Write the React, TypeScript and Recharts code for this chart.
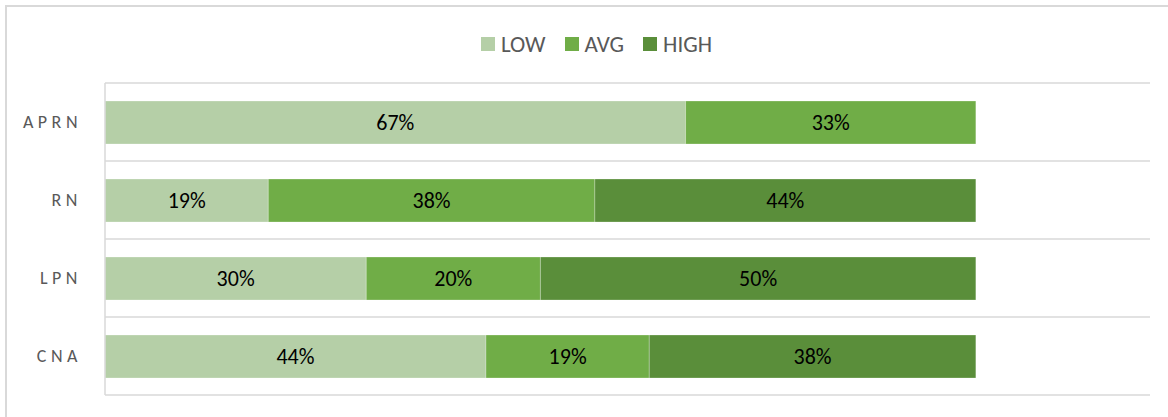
import React from "react";
import {
  BarChart,
  Bar,
  XAxis,
  YAxis,
  CartesianGrid,
  Legend,
  LabelList,
} from "recharts";

const categories = ["APRN", "RN", "LPN", "CNA"];
const lowShare = [0.6667, 0.1875, 0.3, 0.4375];
const avgShare = [0.3333, 0.375, 0.2, 0.1875];
const highShare = [0, 0.4375, 0.5, 0.375];

const seriesKeys = ["low", "avg", "high"];
const seriesNames = ["LOW", "AVG", "HIGH"];
const seriesColors = ["#B5CFA7", "#70AD47", "#5A8E3A"];

const chartData = categories.map((role, i) => ({
  role,
  low: lowShare[i],
  avg: avgShare[i],
  high: highShare[i],
}));

const FONT = "Calibri, Carlito, Lato, sans-serif";

const pct = (v: unknown) => {
  const n = Number(v);
  return n > 0 ? `${Math.round(n * 100)}%` : "";
};

// keep series order (LOW, AVG, HIGH) instead of the sorted payload
function LegendContent() {
  return (
    <div
      style={{
        display: "flex",
        justifyContent: "center",
        alignItems: "center",
        gap: 19,
        height: 24,
        fontFamily: FONT,
        fontSize: 23,
        color: "#595959",
      }}
    >
      {seriesNames.map((name, i) => (
        <div key={name} style={{ display: "flex", alignItems: "center" }}>
          <span
            style={{
              width: 14,
              height: 14,
              background: seriesColors[i],
              marginRight: 6,
              display: "inline-block",
            }}
          />
          <span>{name}</span>
        </div>
      ))}
    </div>
  );
}

export default function App() {
  return (
    <div style={{ position: "relative", width: 1152, height: 401 }}>
      <div
        style={{
          position: "fixed",
          left: 5,
          top: 5,
          width: 1163,
          height: 412,
          boxSizing: "border-box",
          borderTop: "2px solid #d9d9d9",
          borderLeft: "2px solid #d9d9d9",
          pointerEvents: "none",
          zIndex: 2,
        }}
      />
      <BarChart
        width={1152}
        height={401}
        data={chartData}
        layout="vertical"
        margin={{ top: 75, right: 10, bottom: 14, left: 0 }}
        barSize={43}
      >
        <CartesianGrid
          vertical={false}
          stroke="#d9d9d9"
          strokeWidth={1.5}
          horizontalCoordinatesGenerator={({ offset }: any) =>
            [0, 1, 2, 3, 4].map(
              (i) => offset.top + (i * offset.height) / categories.length
            )
          }
        />
        <XAxis type="number" domain={[0, 1.2]} hide />
        <YAxis
          type="category"
          dataKey="role"
          width={97}
          axisLine={{ stroke: "#d9d9d9", strokeWidth: 1.5 }}
          tickLine={false}
          tickSize={0}
          tickMargin={23}
          tick={{
            fill: "#595959",
            fontSize: 18,
            fontFamily: FONT,
            letterSpacing: 4.5,
          }}
        />
        <Legend
          verticalAlign="top"
          content={<LegendContent />}
          wrapperStyle={{ top: 24, left: 25, width: 1127, height: 0 }}
        />
        {seriesKeys.map((key, i) => (
          <Bar
            key={key}
            dataKey={key}
            name={seriesNames[i]}
            stackId="share"
            fill={seriesColors[i]}
            stroke="#ffffff"
            strokeOpacity={0.25}
            strokeWidth={1}
            isAnimationActive={false}
          >
            <LabelList
              dataKey={key}
              position="center"
              formatter={pct}
              fill="#000000"
              fontSize={22}
              fontFamily={FONT}
            />
          </Bar>
        ))}
      </BarChart>
    </div>
  );
}
